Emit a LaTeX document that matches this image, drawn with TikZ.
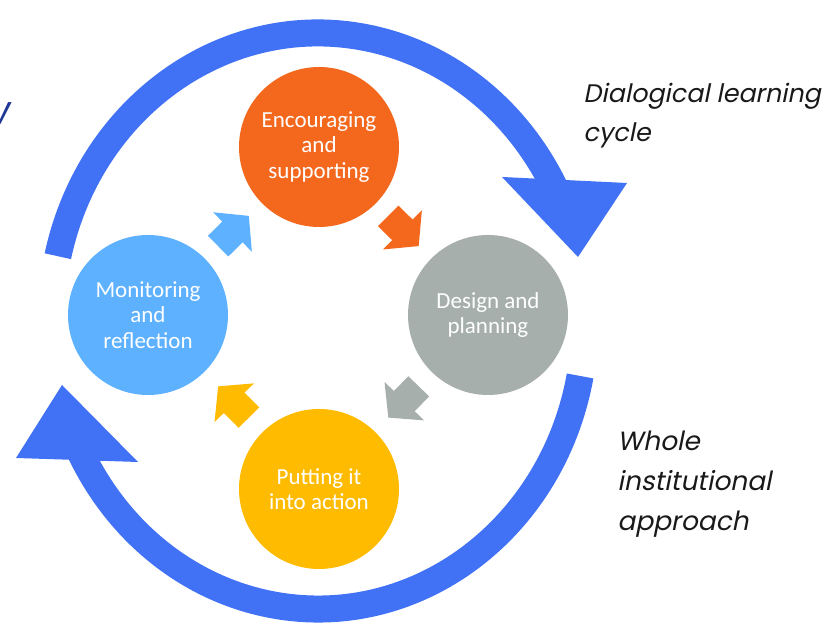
\documentclass[tikz,border=0pt]{standalone}
\usepackage{fontspec}
\setmainfont{Carlito}
\newfontfamily\labelfont[FakeSlant=0.2]{Poppins}
\usetikzlibrary{arrows.meta,calc}
\definecolor{encorange}{RGB}{244,104,30}
\definecolor{desgray}{RGB}{166,175,172}
\definecolor{actyellow}{RGB}{255,187,0}
\definecolor{monblue}{RGB}{93,177,255}
\definecolor{loopblue}{RGB}{65,113,245}
\definecolor{darkblue}{RGB}{30,55,150}
\definecolor{labelgray}{RGB}{25,25,25}
\begin{document}
\begin{tikzpicture}[x=0.5pt,y=0.5pt,
    stage/.style={circle,minimum size=80pt,inner sep=0pt,text=white,align=center,
      font=\fontsize{11.5}{12.8}\selectfont},
    flowarrow/.style={line width=14.5pt,-{Triangle[width=27pt,length=11.5pt]}},
    loopband/.style={line width=13.5pt,draw=loopblue},
    caption/.style={anchor=north west,inner sep=0pt,align=left,text=labelgray,
      font=\labelfont\fontsize{12.7}{19.5}\selectfont}]
  \useasboundingbox (0,0) rectangle (835,624);
  \coordinate (hub) at (318,303);
  % outer loop
  \draw[loopband] ($(hub)+(167:267 and 288)$) arc[start angle=167,end angle=27,x radius=133.5pt,y radius=144pt];
  \fill[loopblue] (502,447)--(627,441)--(578,367)--cycle;
  \draw[loopband] ($(hub)+(-11:267 and 288)$) arc[start angle=-11,end angle=-153,x radius=133.5pt,y radius=144pt];
  \fill[loopblue] (16,166)--(138,162)--(62,239)--cycle;
  % the four stages
  \node[stage,fill=encorange] (enc) at (319,477) {Encouraging\\and\\supporting};
  \node[stage,fill=desgray] (des) at (488,309) {Design and\\planning};
  \node[stage,fill=actyellow] (act) at (319,135) {Putting it\\into action};
  \node[stage,fill=monblue] (mon) at (148,309) {Monitoring\\and\\reflection};
  \draw[flowarrow,monblue] ($(mon)!0.41!(enc)$)--($(mon)!0.59!(enc)$);
  \draw[flowarrow,encorange] ($(enc)!0.41!(des)$)--($(enc)!0.59!(des)$);
  \draw[flowarrow,desgray] ($(des)!0.41!(act)$)--($(des)!0.59!(act)$);
  \draw[flowarrow,actyellow] ($(act)!0.41!(mon)$)--($(act)!0.59!(mon)$);
  % captions
  \node[caption] (dlc) at (583,541) {Dialogical learning\\cycle};
  \node[caption,font=\labelfont\fontsize{13.2}{19.8}\selectfont] (wia) at (617,193) {Whole\\institutional\\approach};
  \node[anchor=base east,inner sep=0pt,text=darkblue,font=\labelfont\fontsize{20}{20}\selectfont] (cut) at (9,499) {w};
\end{tikzpicture}
\end{document}
